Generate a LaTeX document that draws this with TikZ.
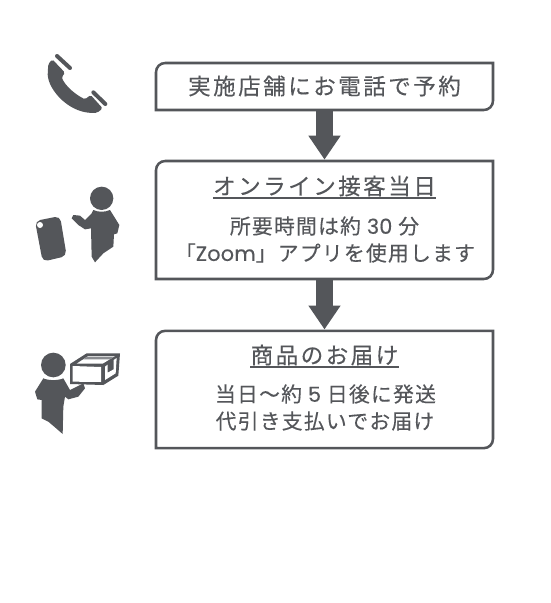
\documentclass[tikz,border=0pt]{standalone}
\usepackage{fontspec}
\usetikzlibrary{arrows.meta}
\setmainfont{Noto Sans CJK JP}
\newfontfamily\titlefont[LetterSpace=11,FakeBold=0.25]{Noto Sans CJK JP}
\newfontfamily\bodyfont[LetterSpace=6,FakeBold=0.25]{Noto Sans CJK JP}
\newfontfamily\latinfont[LetterSpace=1,FakeBold=0.25]{Poppins}
\definecolor{ink}{HTML}{54565A}
\definecolor{inklight}{HTML}{8A8C90}
\tikzset{
  x=0.75pt,y=-0.75pt,
  boxline/.style={draw=ink,line width=1.9pt},
  boxarea/.style={minimum width=252.75pt,inner sep=0pt,outer sep=0pt},
  titletext/.style={text=ink,font=\titlefont\fontsize{16.9pt}{18pt}\selectfont,inner sep=0pt,anchor=center},
  bodytext/.style={text=ink,font=\bodyfont\fontsize{15.6pt}{20pt}\selectfont,inner sep=0pt,align=center,anchor=center},
  flowarrow/.style={draw=ink,line width=12.4pt,-{Triangle[length=18pt,width=23pt]},shorten >=1pt},
  rule/.style={draw=ink,line width=0.9pt},
  icon/.style={fill=ink,draw=none},
}
\newcommand{\flowbox}[1]{%
  \draw[boxline] (#1.south west) -- ([yshift=-7pt]#1.north west)
    .. controls ([yshift=-3pt]#1.north west) and ([xshift=3pt]#1.north west) .. ([xshift=7pt]#1.north west)
    -- (#1.north east) -- ([yshift=7pt]#1.south east)
    .. controls ([yshift=3pt]#1.south east) and ([xshift=-3pt]#1.south east) .. ([xshift=-7pt]#1.south east)
    -- cycle;}
\begin{document}
\begin{tikzpicture}
\useasboundingbox[fill=white] (0,0) rectangle (550,603);
% boxes
\node[boxarea,minimum height=35.25pt] (b1) at (324.5,86.5) {};
\node[boxarea,minimum height=88.5pt] (b2) at (324.5,220) {};
\node[boxarea,minimum height=88pt] (b3) at (324.5,389.5) {};
\flowbox{b1}\flowbox{b2}\flowbox{b3}
% connectors
\draw[flowarrow] (b1.south) -- (b2.north);
\draw[flowarrow] (b2.south) -- (b3.north);
% texts
\node[titletext] (t1) at (324.5,86) {実施店舗にお電話で予約};
\node[titletext] (t2) at (324.5,186) {オンライン接客当日};
\draw[rule] ([yshift=-1pt]t2.south west) -- ([yshift=-1pt]t2.south east);
\node[bodytext] (l2a) at (324.5,226) {所要時間は約 {\latinfont 30} 分};
\node[bodytext] (l2b) at (325,253) {「{\latinfont Zoom}」アプリを使用します};
\node[titletext] (t3) at (324.5,355) {商品のお届け};
\draw[rule] ([yshift=-1pt]t3.south west) -- ([yshift=-1pt]t3.south east);
\node[bodytext] (l3a) at (325.5,394) {当日〜約 {\latinfont 5} 日後に発送};
\node[bodytext] (l3b) at (325,421) {代引き支払いでお届け};
% phone icon
\begin{scope}[shift={(20,40)},x=0.25pt,y=-0.25pt]
\fill[icon,rounded corners=1.2pt] (97,58) -- (135,98) -- (125,112) .. controls (135,135) and (160,160) .. (195,178) -- (212,165) -- (248,205) -- (232,218) .. controls (150,225) and (85,150) .. (83,100) -- (85,72) -- cycle;
\draw[ink,line width=3pt,line cap=round] (111,48) -- (150,84);
\draw[ink,line width=3pt,line cap=round] (220,157) -- (256,192);
\end{scope}
% person with smartphone
\begin{scope}[shift={(20,175)},x=0.25pt,y=-0.25pt]
\fill[icon] (245,70) circle[radius=35];
\fill[icon] (220,105) .. controls (235,112) and (255,112) .. (270,105) -- (298,150) -- (292,175) -- (282,178) -- (280,215) -- (250,235) -- (225,262) -- (215,245) -- (213,160) -- (195,163) -- (175,150) -- (155,130) -- (160,120) -- (180,122) -- (195,135) -- (215,115) -- cycle;
\fill[icon,rounded corners=4pt] (45,138) -- (120,123) -- (140,243) -- (68,260) -- cycle;
\fill[white] (60,150) circle[radius=9];
\end{scope}
% person with parcel
\begin{scope}[shift={(20,340)},x=0.25pt,y=-0.25pt]
\fill[icon] (100,75) circle[radius=37];
\fill[icon] (70,115) .. controls (85,122) and (115,122) .. (130,115) -- (150,150) -- (190,130) -- (195,145) -- (175,170) -- (145,178) -- (135,170) -- (130,200) -- (128,282) -- (105,262) -- (85,245) -- (65,235) -- (65,180) -- (52,178) -- (45,155) -- cycle;
\fill[icon] (150,72) -- (200,40) -- (300,40) -- (295,107) -- (250,135) -- (150,132) -- cycle;
\fill[white] (158,78) -- (243,81) -- (243,126) -- (158,125) -- cycle;
\fill[white] (170,71) -- (205,48) -- (285,48) -- (248,71) -- cycle;
\fill[inklight] (202,50) -- (282,50) -- (270,58) -- (190,58) -- cycle;
\fill[white] (255,80) -- (263,74) -- (263,98) -- (281,88) -- (281,60) -- (290,54) -- (287,100) -- (255,120) -- cycle;
\end{scope}
\end{tikzpicture}
\end{document}
